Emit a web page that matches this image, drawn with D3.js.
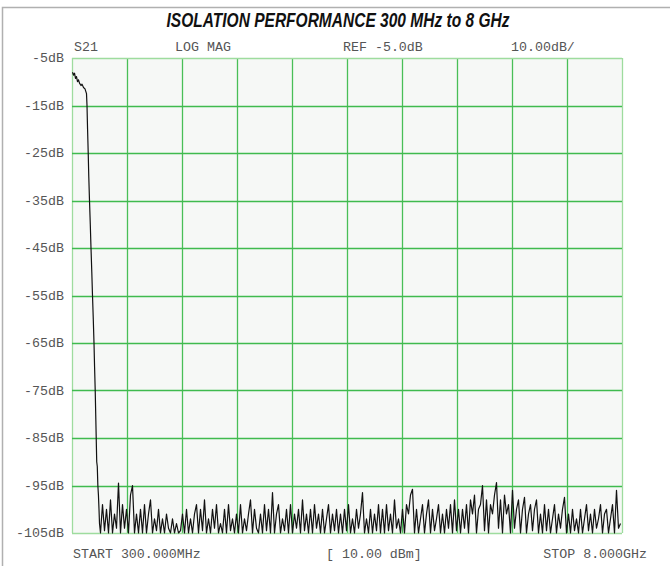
<!DOCTYPE html>
<html>
<head>
<meta charset="utf-8">
<script src="https://cdn.jsdelivr.net/npm/d3@7/dist/d3.min.js"></script>
<style>
  body { margin: 0; background: #fff; }
  .mono { font-family: "Liberation Mono", "DejaVu Sans Mono", monospace; fill: #555; font-size: 13.3px; }
</style>
</head>
<body>
<script>
// ---- data -------------------------------------------------------------
// y tick labels (dB) and x grid positions (GHz)
var yTicks = [-5, -15, -25, -35, -45, -55, -65, -75, -85, -95, -105];
var xTicks = [0.3, 1.07, 1.84, 2.61, 3.38, 4.15, 4.92, 5.69, 6.46, 7.23, 8.0];

// top annotation line of the analyzer screen
var headerLabels = [
  {text: "S21", x: 74},
  {text: "LOG MAG", x: 175},
  {text: "REF -5.0dB", x: 343},
  {text: "10.00dB/", x: 511}
];

// passband + roll-off part of the trace (GHz, dB)
var rollFreq = [0.307, 0.321, 0.335, 0.349, 0.363, 0.377, 0.391, 0.405, 0.426, 0.44, 0.461, 0.482,
                0.503, 0.51, 0.518, 0.527, 0.535, 0.545, 0.556, 0.566, 0.577, 0.587, 0.598,
                0.608, 0.616, 0.625, 0.632, 0.639, 0.646, 0.654, 0.662, 0.67, 0.678, 0.685, 0.692];
var rollDb   = [-8.0, -8.6, -8.2, -9.3, -8.9, -10.0, -9.6, -10.3, -10.8, -10.5, -11.2, -11.5,
                -12.5, -15, -20, -25, -30, -35, -40, -45, -50, -55, -60,
                -65, -70, -75, -80, -85, -90, -91, -95, -97, -100, -103, -104];

// noise floor after the roll-off, one value per sweep point
var noiseStart = 0.699, noiseStep = 0.028;
var noiseDb = [
  -105,-99,-104.5,-100,-105,-98,-105,-101,-104,-94.5,-105,-99,-104,-100,-105,-97,-95,-105,-101,-105,
  -100,-105,-99,-105,-101,-98,-105,-102,-104.5,-100,-105,-102,-105,-101,-104,-105,-102,-105,-103,-105,
  -104.5,-101,-105,-100,-105,-102,-105,-101,-99,-105,-100,-104.5,-98,-105,-102,-105,-100,-104,-99,-105,
  -103,-105,-100,-105,-99,-104.5,-102,-105,-101,-105,-99,-105,-102,-104.5,-101,-98,-105,-100,-104,-105,
  -101,-105,-99,-104.5,-100,-105,-96.5,-105,-101,-99,-105,-102,-104.5,-100,-105,-99,-105,-101,-104,-100,
  -105,-98,-104.5,-101,-105,-100,-105,-99,-104,-101,-105,-100,-105,-102,-99,-105,-101,-104.5,-100,-105,
  -101,-105,-100,-104.5,-99,-105,-102,-105,-100,-104,-101,-96.5,-105,-102,-105,-100,-105,-101,-104.5,-99,
  -105,-100,-105,-99,-104.5,-101,-105,-98,-104,-102,-105,-100,-105,-99,-101,-97,-95.8,-105,-100,-105,
  -102,-99,-105,-101,-98,-105,-100,-104.5,-102,-99,-105,-101,-105,-100,-104,-99,-105,-98,-104.5,-100,
  -105,-100,-104,-99,-105,-98,-101,-97,-105,-100,-99,-95,-104.5,-98,-105,-99,-101,-97,-94.4,-104,
  -98,-105,-97,-101,-99,-105,-96,-104,-100,-98,-105,-100,-97.5,-105,-101,-99,-104.5,-100,-98,-105,
  -101,-105,-99,-104.5,-100,-105,-102,-99,-105,-101,-104,-100,-97.5,-105,-101,-105,-100,-104.5,-102,-105,
  -100,-105,-102,-99,-104.5,-101,-105,-100,-104,-102,-99,-105,-101,-100,-105,-102,-99,-105,-96,-104,
  -103
];

// ---- chart ------------------------------------------------------------
var W = 670, H = 566;
var plot = {left: 72, right: 622, top: 58, bottom: 533};

var svg = d3.select("body").append("svg")
  .attr("width", W)
  .attr("height", H);

// outer frame (only top and left edges are visible)
svg.append("path")
  .attr("d", "M2.5," + H + "V7.5H" + W)
  .attr("fill", "none")
  .attr("stroke", "#b0b0b0")
  .attr("stroke-width", 1.5);

svg.append("text")
  .attr("x", 338)
  .attr("y", 27)
  .attr("text-anchor", "middle")
  .attr("textLength", 343)
  .attr("lengthAdjust", "spacingAndGlyphs")
  .style("font-family", "'Liberation Sans Narrow', 'Liberation Sans', Arial, sans-serif")
  .style("font-weight", "bold")
  .style("font-style", "italic")
  .style("font-size", "19.5px")
  .style("fill", "#111")
  .text("ISOLATION PERFORMANCE 300 MHz to 8 GHz");

var x = d3.scaleLinear().domain([0.3, 8]).range([plot.left, plot.right]);
var y = d3.scaleLinear().domain([-105, -5]).range([plot.bottom, plot.top]);

svg.append("rect")
  .attr("x", plot.left)
  .attr("y", plot.top)
  .attr("width", plot.right - plot.left)
  .attr("height", plot.bottom - plot.top)
  .attr("fill", "#f6f8f6");

// grid lines
var grid = svg.append("g").attr("class", "grid");
grid.selectAll("line.v")
  .data(xTicks)
  .enter().append("line")
  .attr("class", "v")
  .attr("x1", function(d) { return Math.round(x(d)) + 0.5; })
  .attr("x2", function(d) { return Math.round(x(d)) + 0.5; })
  .attr("y1", plot.top)
  .attr("y2", plot.bottom)
  .attr("stroke", function(d, i) { return (i == 0 || i == xTicks.length - 1) ? "#9edc9e" : "#49bf57"; })
  .attr("stroke-width", 1.3);

grid.selectAll("line.h")
  .data(yTicks)
  .enter().append("line")
  .attr("class", "h")
  .attr("x1", plot.left)
  .attr("x2", plot.right)
  .attr("y1", function(d) { return Math.round(y(d)) + 0.5; })
  .attr("y2", function(d) { return Math.round(y(d)) + 0.5; })
  .attr("stroke", function(d, i) { return (i == 0 || i == yTicks.length - 1) ? "#9edc9e" : "#3fba4e"; })
  .attr("stroke-width", 1.3);

// y axis labels
svg.selectAll("text.ylab")
  .data(yTicks)
  .enter().append("text")
  .attr("class", "ylab mono")
  .attr("x", 64)
  .attr("y", function(d) { return y(d) + 4; })
  .attr("text-anchor", "end")
  .text(function(d) { return d + "dB"; });

// header annotations
svg.selectAll("text.head")
  .data(headerLabels)
  .enter().append("text")
  .attr("class", "head mono")
  .attr("x", function(d) { return d.x; })
  .attr("y", 51)
  .text(function(d) { return d.text; });

// footer annotations
svg.append("text").attr("class", "mono").attr("x", 73).attr("y", 558).text("START 300.000MHz");
svg.append("text").attr("class", "mono").attr("x", 326).attr("y", 558).text("[ 10.00 dBm]");
svg.append("text").attr("class", "mono").attr("x", 647).attr("y", 558)
  .attr("text-anchor", "end").text("STOP 8.000GHz");

// trace
var trace = rollFreq.map(function(f, i) { return [f, rollDb[i]]; });
noiseDb.forEach(function(v, i) { trace.push([noiseStart + i * noiseStep, v]); });

var line = d3.line()
  .x(function(d) { return x(d[0]); })
  .y(function(d) { return y(Math.max(-105, d[1])); });

svg.append("path")
  .datum(trace)
  .attr("d", line)
  .attr("fill", "none")
  .attr("stroke", "#111")
  .attr("stroke-width", 1.2)
  .attr("stroke-linejoin", "round");
</script>
</body>
</html>
